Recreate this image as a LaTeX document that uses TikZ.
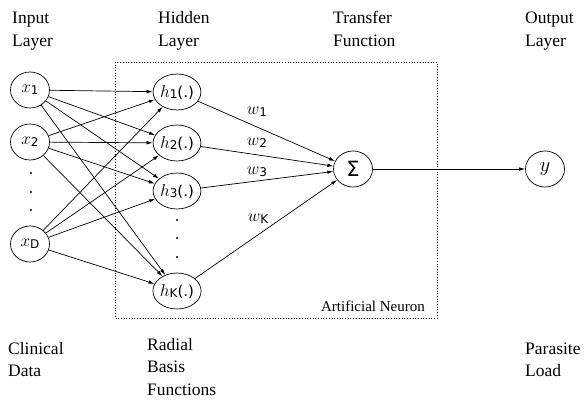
\documentclass[tikz,border=0pt]{standalone}
\usepackage{fontspec}
\setmainfont{Liberation Serif}
\newfontfamily\djv{DejaVu Sans}
\usetikzlibrary{arrows.meta,shapes.geometric}
\newcommand{\vlab}[2]{{\fontsize{19}{19}\selectfont$#1$}\raisebox{-0.35ex}{\djv\fontsize{12}{12}\selectfont #2}}
\newcommand{\hlab}[1]{{\fontsize{19}{19}\selectfont$h$}\raisebox{-0.25ex}{\djv\fontsize{12}{12}\selectfont #1}{\djv\fontsize{15}{15}\selectfont(.)}}
\tikzset{
  neuron/.style={draw, ellipse, line width=0.7pt, minimum width=39pt, minimum height=36pt, inner sep=0pt},
  arr/.style={line width=0.7pt, -{Latex[length=6pt,width=3.5pt]}},
  lbl/.style={anchor=base west, inner sep=0pt, font=\fontsize{17.5}{17.5}\selectfont},
  small/.style={anchor=base east, inner sep=0pt, font=\fontsize{15}{15}\selectfont},
  dotmark/.style={circle, fill, inner sep=0pt, minimum size=2.2pt},
  wlab/.style={inner sep=0pt}
}
\begin{document}
\begin{tikzpicture}[x=1pt,y=-1pt]
\useasboundingbox (0,0) rectangle (585,403);
% labels
\node[lbl] (t1a) at (12,24) {Input};
\node[lbl] (t1b) at (12,47) {Layer};
\node[lbl] (t2a) at (158,24) {Hidden};
\node[lbl] (t2b) at (158,47) {Layer};
\node[lbl] (t3a) at (333,24) {Transfer};
\node[lbl] (t3b) at (333,47) {Function};
\node[lbl] (t4a) at (525,24) {Output};
\node[lbl] (t4b) at (525,47) {Layer};
\node[lbl] (b1a) at (8,354) {Clinical};
\node[lbl] (b1b) at (8,376) {Data};
\node[lbl] (b2a) at (147,350) {Radial};
\node[lbl] (b2b) at (147,372) {Basis};
\node[lbl] (b2c) at (147,395) {Functions};
\node[lbl] (b4a) at (525,354) {Parasite};
\node[lbl] (b4b) at (525,376) {Load};
% box
\draw[dotted, line width=0.7pt] (115,62) rectangle (437,318);
\node[small] (an) at (425,311) {Artificial Neuron};
% input
\node[neuron] (x1) at (30,90) {\vlab{x}{1}};
\node[neuron] (x2) at (30,142) {\vlab{x}{2}};
\node[neuron] (xD) at (30,244) {\vlab{x}{D}};
\node[dotmark] (d1) at (31,173) {};
\node[dotmark] (d2) at (31,192) {};
\node[dotmark] (d3) at (31,210) {};
% hidden
\node[neuron] (h1) at (177,92) {\hlab{1}};
\node[neuron] (h2) at (177,143) {\hlab{2}};
\node[neuron] (h3) at (177,191) {\hlab{3}};
\node[neuron] (hK) at (177,291) {\hlab{K}};
\node[dotmark] (e1) at (177,220) {};
\node[dotmark] (e2) at (177,238) {};
\node[dotmark] (e3) at (177,257) {};
% sum and output
\node[neuron] (S) at (353,169) {\djv\fontsize{21}{21}\selectfont Σ};
\node[neuron] (Y) at (545,169) {\fontsize{22}{22}\selectfont$y$};
% connections
\foreach \i in {x1,x2,xD}{
  \foreach \j in {h1,h2,h3,hK}{
    \draw[arr] (\i) -- (\j);
  }
}
\foreach \j in {h1,h2,h3,hK}{
  \draw[arr] (\j) -- (S);
}
\draw[arr] (S) -- (Y);
% weights
\node[wlab] (w1) at (257,112) {\vlab{w}{1}};
\node[wlab] (w2) at (257,143) {\vlab{w}{2}};
\node[wlab] (w3) at (257,172) {\vlab{w}{3}};
\node[wlab] (wK) at (258,219) {\vlab{w}{K}};
\end{tikzpicture}
\end{document}
